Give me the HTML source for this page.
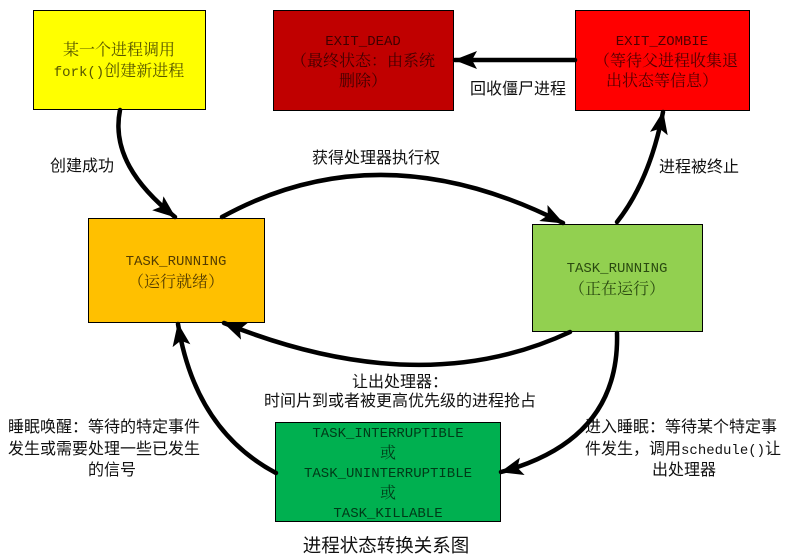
<!DOCTYPE html>
<html><head><meta charset="utf-8"><style>
html,body{margin:0;padding:0;background:#fff;}
svg{display:block}
.b{font-family:"Liberation Serif","Noto Serif CJK SC",serif;font-size:16px;text-anchor:middle}
.m{font-family:"Liberation Mono",monospace;font-size:14px}
.l{font-family:"Liberation Sans","Noto Sans CJK SC",sans-serif;font-size:16px;fill:#111}
</style></head><body>
<svg width="793" height="560" viewBox="0 0 793 560" xmlns="http://www.w3.org/2000/svg">
<defs>
<marker id="a" markerUnits="userSpaceOnUse" markerWidth="24" markerHeight="20" refX="22" refY="10" orient="auto">
<path d="M0,1 L23,10 L0,19 L5,10 Z" fill="#000"/>
</marker>
</defs>
<rect x="33.5" y="10.5" width="172" height="99" fill="#ffff00" stroke="#000"/>
<text class="b" x="119" y="55" fill="#555500">某一个进程调用</text>
<text class="b" x="119" y="76" fill="#555500"><tspan class="m">fork()</tspan>创建新进程</text>

<rect x="273.5" y="10.5" width="180" height="100" fill="#c00000" stroke="#000"/>
<text class="b m" x="363" y="45" fill="#400000">EXIT_DEAD</text>
<text class="b" x="363" y="66" fill="#400000">（最终状态：由系统</text>
<text class="b" x="363" y="86" fill="#400000">删除）</text>

<rect x="575.5" y="10.5" width="174" height="100" fill="#ff0000" stroke="#000"/>
<text class="b m" x="662" y="45" fill="#500000">EXIT_ZOMBIE</text>
<text class="b" x="666" y="66" fill="#500000">（等待父进程收集退</text>
<text class="b" x="662" y="86" fill="#500000">出状态等信息）</text>

<rect x="88.5" y="218.5" width="176" height="104" fill="#ffc000" stroke="#000"/>
<text class="b m" x="176" y="265" fill="#553d00">TASK_RUNNING</text>
<text class="b" x="176" y="287" fill="#553d00">（运行就绪）</text>

<rect x="532.5" y="224.5" width="170" height="107" fill="#92d050" stroke="#000"/>
<text class="b m" x="617" y="272" fill="#2a4a10">TASK_RUNNING</text>
<text class="b" x="617" y="294" fill="#2a4a10">（正在运行）</text>

<rect x="275.5" y="422.5" width="225" height="99" fill="#00b050" stroke="#000"/>
<text class="b m" x="388" y="437" fill="#003a18">TASK_INTERRUPTIBLE</text>
<text class="b" x="388" y="458" fill="#003a18">或</text>
<text class="b m" x="388" y="477" fill="#003a18">TASK_UNINTERRUPTIBLE</text>
<text class="b" x="388" y="498" fill="#003a18">或</text>
<text class="b m" x="388" y="517" fill="#003a18">TASK_KILLABLE</text>

<g fill="none" stroke="#000" stroke-width="4.5" stroke-linecap="round">
<path d="M120,110 C112,150 135,185 175,217" marker-end="url(#a)"/>
<path d="M222,217 Q380,130 563,223" marker-end="url(#a)"/>
<path d="M570,332 Q420,402 224,323" marker-end="url(#a)"/>
<path d="M617,222 Q650,180 663,112" marker-end="url(#a)"/>
<path d="M575,60 L455,60" marker-end="url(#a)"/>
<path d="M617,333 Q620,440 501,472" marker-end="url(#a)"/>
<path d="M276,473 Q195,430 178,324" marker-end="url(#a)"/>
</g>

<text class="l" x="50" y="171">创建成功</text>
<text class="l" x="312" y="163">获得处理器执行权</text>
<text class="l" x="470" y="94">回收僵尸进程</text>
<text class="l" x="659" y="172">进程被终止</text>
<text class="l" x="400" y="387" text-anchor="middle">让出处理器：</text>
<text class="l" x="400" y="406" text-anchor="middle">时间片到或者被更高优先级的进程抢占</text>
<text class="l" x="8" y="432">睡眠唤醒：等待的特定事件</text>
<text class="l" x="8" y="454">发生或需要处理一些已发生</text>
<text class="l" x="88" y="475">的信号</text>
<text class="l" x="585" y="432">进入睡眠：等待某个特定事</text>
<text class="l" x="585" y="454">件发生，调用<tspan class="m">schedule()</tspan>让</text>
<text class="l" x="652" y="475">出处理器</text>
<text class="l" x="386" y="552" text-anchor="middle" style="font-size:18.5px">进程状态转换关系图</text>
</svg>
</body></html>
